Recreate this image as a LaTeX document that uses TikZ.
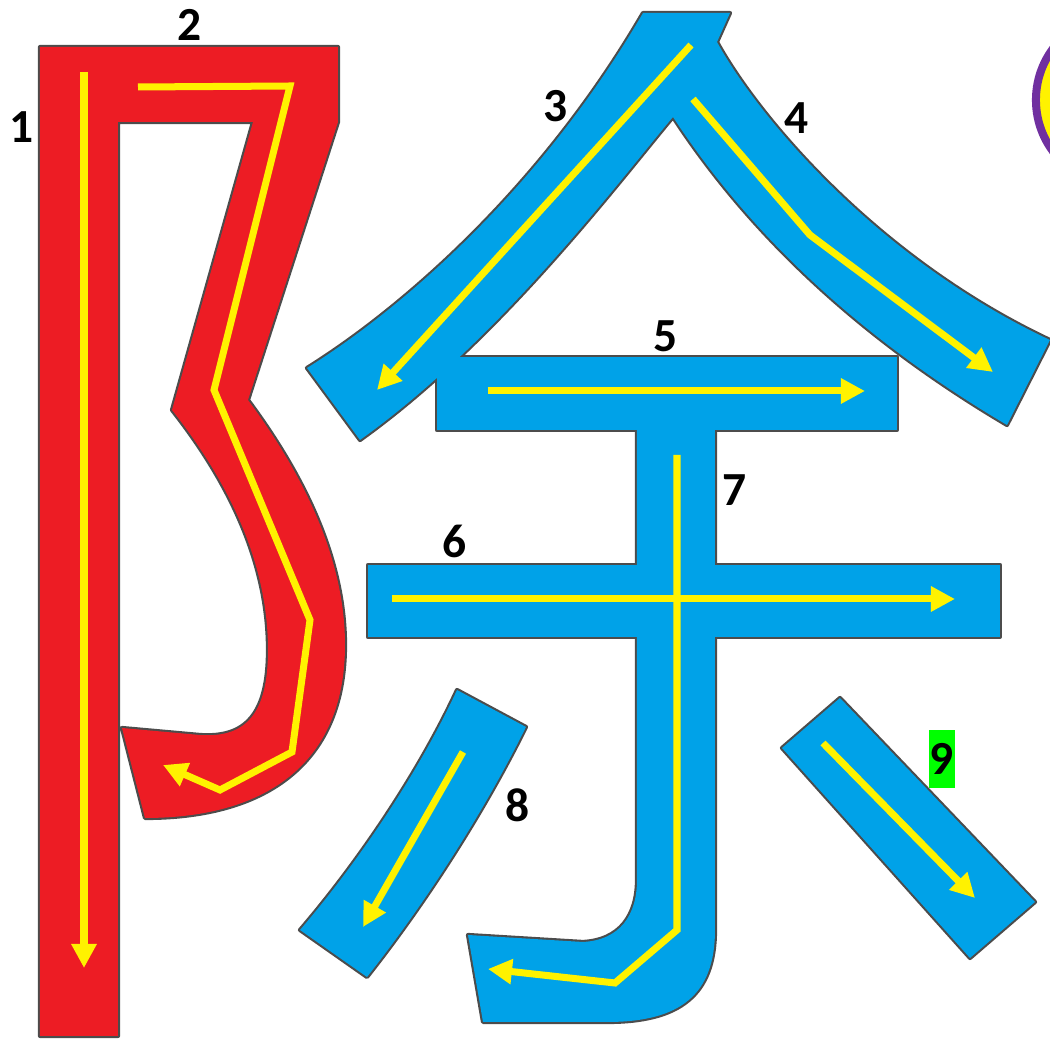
\documentclass[tikz,border=0pt]{standalone}
\usepackage{fontspec}
\setmainfont{Carlito}
\usetikzlibrary{arrows.meta}

\definecolor{strokered}{HTML}{ED1C24}
\definecolor{strokeblue}{HTML}{00A2E8}
\definecolor{ringpurple}{HTML}{7030A0}
\definecolor{tagGreen}{HTML}{00FF00}

% outlines of the strokes, in pixels of the page
\newcommand{\earpath}{(40,47) -- (338,47) -- (338,122) -- (248,400)
  .. controls (300,470) and (345,555) .. (345,645)
  .. controls (345,760) and (270,818) .. (145,818) -- (122,728) -- (200,735)
  .. controls (245,738) and (268,715) .. (268,650)
  .. controls (268,570) and (235,490) .. (172,410)
  -- (253,122) -- (118,122) -- (118,1036) -- (40,1036) -- cycle}
\newcommand{\roofpath}{(643,13) -- (730,13) -- (717,42)
  .. controls (760,120) and (880,260) .. (1050,340) -- (1007,425)
  .. controls (880,350) and (760,250) .. (673,117)
  .. controls (620,180) and (500,340) .. (360,440) -- (307,368)
  .. controls (400,310) and (540,190) .. (643,13) -- cycle}
\newcommand{\stempath}{(637,420) -- (715,420) -- (715,930)
  .. controls (715,995) and (680,1022) .. (607,1022) -- (483,1022) -- (468,935)
  -- (583,942) .. controls (620,940) and (637,915) .. (637,880) -- cycle}
\newcommand{\leftdotpath}{(457,690) -- (526,727)
  .. controls (480,820) and (420,910) .. (367,977) -- (300,930)
  .. controls (360,860) and (420,770) .. (457,690) -- cycle}
\newcommand{\rightdotpath}{(840,698) -- (1035,902) -- (970,958) -- (782,748) -- cycle}

\begin{document}
\begin{tikzpicture}[x=0.01cm, y=-0.01cm,
    num/.style={font=\fontsize{13.5}{16}\selectfont\bfseries, inner sep=0pt},
    rim/.style={draw=black!70, line width=1.2pt, line join=round},
    guide/.style={yellow, line width=0.07cm, -{Triangle[length=0.24cm, width=0.24cm]}}
]
    \useasboundingbox (0,0) rectangle (1050,1040);
    \clip (0,0) rectangle (1050,1040);

    % dark rims first, fills on top of them
    \draw[rim] \earpath;
    \draw[rim] \roofpath;
    \draw[rim] (437,357) rectangle (897,430);
    \draw[rim] \stempath;
    \draw[rim] (368,565) rectangle (1000,637);
    \draw[rim] \leftdotpath;
    \draw[rim] \rightdotpath;

    \fill[strokered] \earpath;
    \fill[strokeblue] \roofpath;
    \fill[strokeblue] (437,357) rectangle (897,430);
    \fill[strokeblue] \stempath;
    \fill[strokeblue] (368,565) rectangle (1000,637);
    \fill[strokeblue] \leftdotpath;
    \fill[strokeblue] \rightdotpath;

    \draw[ringpurple, line width=0.08cm, fill=yellow] (1122,100) circle[radius=0.86cm];

    % stroke directions
    \draw[guide] (84,72) -- (84,968);
    \draw[guide] (138,87) -- (290,86) -- (214,390) -- (310,620) -- (292,752) -- (220,790) -- (163,765);
    \draw[guide] (691,45) -- (377,390);
    \draw[guide] (693,99) -- (810,235) -- (993,372);
    \draw[guide] (488,391) -- (865,391);
    \draw[guide] (392,599) -- (955,599);
    \draw[guide] (677,455) -- (677,930) -- (615,983) -- (488,969);
    \draw[guide] (463,752) -- (363,927);
    \draw[guide] (823,743) -- (975,898);

    \node[num] (n1) at (22,127) {1};
    \node[num] (n2) at (190,25) {2};
    \node[num] (n3) at (556,106) {3};
    \node[num] (n4) at (797,118) {4};
    \node[num] (n5) at (666,336) {5};
    \node[num] (n6) at (455,541) {6};
    \node[num] (n7) at (735,490) {7};
    \node[num] (n8) at (518,805) {8};
    \node[num, fill=tagGreen, minimum width=0.25cm, minimum height=0.58cm] (n9) at (942,759) {9};
\end{tikzpicture}
\end{document}
